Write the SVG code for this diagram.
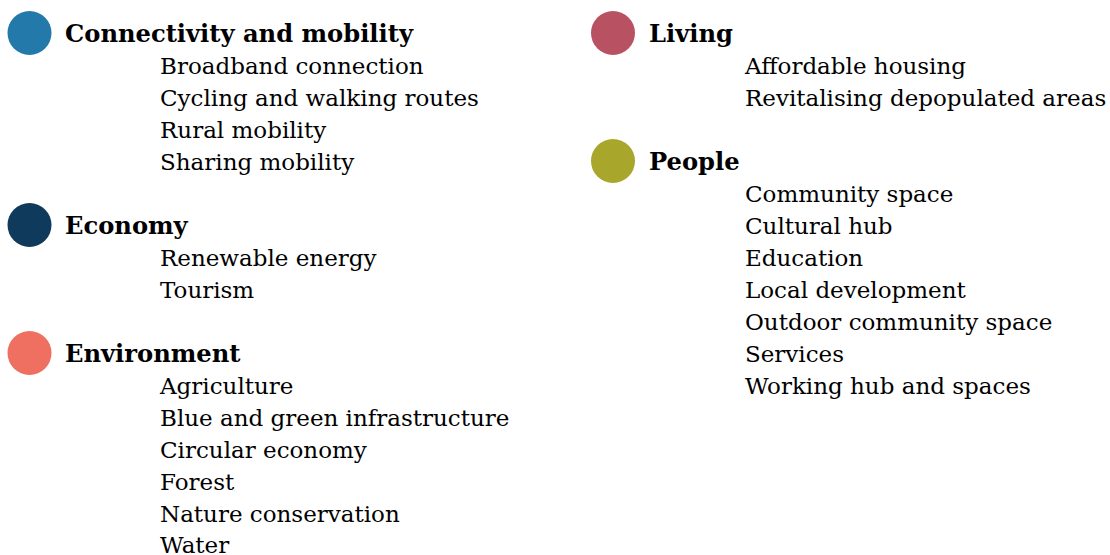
<svg xmlns="http://www.w3.org/2000/svg" width="1110" height="555" viewBox="0 0 1110 555">
<style>
.h{font-family:"DejaVu Serif","Liberation Serif",serif;font-weight:bold;font-size:24.2px;fill:#000}
.i{font-family:"DejaVu Serif","Liberation Serif",serif;font-size:23px;fill:#000}
</style>
<rect width="1110" height="555" fill="#fff"/>
<g id="connectivity">
<circle cx="29.5" cy="33" r="22" fill="#2379aa"/>
<text class="h" x="65" y="42">Connectivity and mobility</text>
<text class="i" x="160" y="74">Broadband connection</text>
<text class="i" x="160" y="106">Cycling and walking routes</text>
<text class="i" x="160" y="138">Rural mobility</text>
<text class="i" x="160" y="170">Sharing mobility</text>
</g>
<g id="economy">
<circle cx="29.5" cy="225" r="22" fill="#0f3a5c"/>
<text class="h" x="65" y="234">Economy</text>
<text class="i" x="160" y="266">Renewable energy</text>
<text class="i" x="160" y="298">Tourism</text>
</g>
<g id="environment">
<circle cx="29.5" cy="353" r="22" fill="#ef6f61"/>
<text class="h" x="65" y="362">Environment</text>
<text class="i" x="160" y="394">Agriculture</text>
<text class="i" x="160" y="426">Blue and green infrastructure</text>
<text class="i" x="160" y="458">Circular economy</text>
<text class="i" x="160" y="490">Forest</text>
<text class="i" x="160" y="522">Nature conservation</text>
<text class="i" x="160" y="553">Water</text>
</g>
<g id="living">
<circle cx="613" cy="33" r="22" fill="#b85263"/>
<text class="h" x="649" y="42">Living</text>
<text class="i" x="745" y="74">Affordable housing</text>
<text class="i" x="745" y="106">Revitalising depopulated areas</text>
</g>
<g id="people">
<circle cx="613" cy="161" r="22" fill="#a8a62b"/>
<text class="h" x="649" y="170">People</text>
<text class="i" x="745" y="202">Community space</text>
<text class="i" x="745" y="234">Cultural hub</text>
<text class="i" x="745" y="266">Education</text>
<text class="i" x="745" y="298">Local development</text>
<text class="i" x="745" y="330">Outdoor community space</text>
<text class="i" x="745" y="362">Services</text>
<text class="i" x="745" y="394">Working hub and spaces</text>
</g>
<g id="connectors"/>
</svg>
